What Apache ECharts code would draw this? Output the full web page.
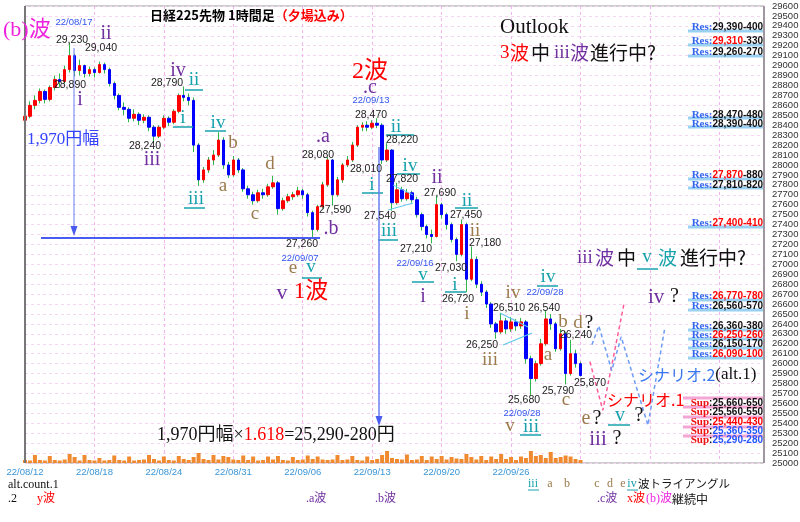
<!DOCTYPE html>
<html>
<head>
<meta charset="utf-8">
<script src="https://cdn.jsdelivr.net/npm/echarts@6/dist/echarts.min.js"></script>
<style>
html,body{margin:0;padding:0;background:#fff;}
#c{width:800px;height:522px;}
</style>
</head>
<body>
<div id="c"></div>
<script>
// Nikkei 225 futures, 1-hour bars (night session included), bar index 0 = 22/08/12
const opens  = [28450,28490,28600,28650,28740,28660,28780,28860,28840,28960,29100,28950,29000,28920,28960,28930,29010,28960,28820,28700,
                28580,28560,28470,28510,28450,28480,28380,28290,28380,28470,28430,28540,28700,28680,28650,28200,27850,27950,28050,28100,
                28250,28000,27900,28050,27950,27760,27700,27640,27720,27700,27780,27820,27560,27640,27680,27700,27740,27700,27520,27350,
                27580,27800,28050,27700,27850,28000,28050,28200,28380,28400,28380,28420,28400,28050,28150,27620,27750,27660,27720,27650,
                27500,27380,27300,27280,27600,27500,27400,27250,27100,27400,26850,27050,26800,26720,26600,26400,26320,26430,26350,26420,
                26380,26420,26050,25850,26000,26200,26450,26400,26150,26300,25900,26100,26000];
const closes = [28490,28600,28650,28740,28660,28780,28860,28840,28960,29100,28950,29000,28920,28960,28930,29010,28960,28820,28700,28580,
                28560,28470,28510,28450,28480,28380,28290,28380,28470,28430,28540,28700,28680,28650,28200,27850,27950,28050,28100,28250,
                28000,27900,28050,27950,27760,27700,27640,27720,27700,27780,27820,27560,27640,27680,27700,27740,27700,27520,27350,27580,
                27800,28050,27700,27850,28000,28050,28200,28380,28400,28380,28420,28400,28050,28150,27620,27750,27660,27720,27650,27500,
                27380,27300,27280,27600,27500,27400,27250,27100,27400,26850,27050,26800,26720,26600,26400,26320,26430,26350,26420,26380,
                26420,26050,25850,26000,26200,26450,26400,26150,26300,25900,26100,26000,25880];
const lows   = [28420,28470,28560,28620,28620,28640,28750,28780,28820,28930,28890,28900,28880,28890,28880,28920,28920,28790,28660,28550,
                28500,28430,28440,28400,28420,28340,28240,28270,28360,28390,28410,28520,28640,28600,28130,27790,27820,27920,28000,28080,
                27960,27870,27880,27920,27730,27660,27600,27620,27660,27680,27760,27500,27540,27620,27650,27680,27660,27480,27260,27330,
                27560,27780,27590,27680,27820,27980,28030,28180,28340,28340,28360,28370,28010,28030,27540,27600,27630,27640,27620,27470,
                27340,27260,27210,27270,27460,27350,27220,27030,27080,26720,26830,26760,26680,26560,26360,26250,26300,26300,26320,26330,
                26350,26000,25680,25820,25980,26180,26340,26120,26130,25790,25880,25960,25870];
const highs  = [28560,28640,28700,28770,28760,28800,28900,28920,29000,29230,29120,29060,29010,28990,28980,29040,29030,28980,28840,28720,
                28630,28580,28560,28530,28510,28500,28400,28400,28500,28490,28560,28720,28790,28720,28680,28220,27980,28080,28150,28330,
                28280,28030,28090,28070,27970,27790,27730,27750,27760,27810,27890,27840,27670,27710,27730,27780,27760,27720,27540,27600,
                27830,28080,28060,27880,28020,28090,28230,28400,28430,28440,28450,28470,28420,28220,28160,27820,27780,27760,27740,27680,
                27520,27400,27350,27690,27620,27520,27420,27270,27450,27420,27180,27080,26830,26740,26620,26420,26510,26460,26470,26450,
                26460,26440,26080,26030,26250,26540,26500,26420,26350,26320,26240,26140,26020];
const volumes = [3000,2500,8000,3000,2500,7000,3000,2500,3500,9000,6000,2500,8000,3000,2500,5000,2500,3000,7500,3000,
                 2500,6500,2500,3000,3500,8000,4000,2500,6500,3000,2500,7000,4000,3000,6000,10000,4000,3000,8000,3500,
                 7000,6000,3500,3000,7500,3000,6500,2500,3000,6500,3500,7000,3000,2500,6000,3000,3500,7500,4000,6500,
                 3500,3000,3500,8000,3000,3500,7000,3000,2500,6500,3000,4000,8000,12000,5000,4000,3500,8500,3000,3500,
                 7000,3000,6500,4000,7000,3500,6000,4500,4000,9000,6000,3500,7000,3000,6500,4000,9000,4000,6000,3000,
                 6500,5000,12000,7000,8000,5000,11000,5000,6000,7500,6500,4000,3000];
const dateTicks = ['22/08/12','22/08/18','22/08/24','22/08/31','22/09/06','22/09/13','22/09/20','22/09/26'];

// forward paths (bar index, price)
const scenario1Bars   = [113.9, 116.5, 120.8];
const scenario1Prices = [26020, 25530, 26610];
const scenario2Bars   = [114.3, 115.7, 118.3, 120.2, 125.6, 129.0];
const scenario2Prices = [26190, 26380, 25930, 26270, 25380, 26360];

// resistance / support zones
const resZones = ['29,390-400','29,310-330','29,260-270','28,470-480','28,390-400','27,870-880','27,810-820',
                  '27,400-410','26,770-780','26,560-570','26,360-380','26,250-260','26,150-170','26,090-100'];
const supZones = ['25,660-650','25,560-550','25,440-430','25,360-350','25,290-280'];

const BARS_PER_TICK = 14;
const X_MAX = 149;

const SERIF = '"Liberation Serif","Noto Sans CJK JP",serif';
const SANS = '"Liberation Sans","Noto Sans CJK JP",sans-serif';
const CJK = '"Noto Sans CJK JP",sans-serif';
const PURPLE = '#7030a0', TEAL = '#17a2ad', TAN = '#9b7b4c', RED = '#ff0000',
      MAG = '#ee22dd', LBLUE = '#3344ff', DATE = '#3355ee', BLACK = '#111';

const candles = opens.map((o, i) => [i, o, closes[i], lows[i], highs[i]]);
const bodies = opens.map((o, i) => [i, o, closes[i], Math.min(o, closes[i]), Math.max(o, closes[i])]);
const vols = volumes.map((v, i) => [i, v]);
const path1 = scenario1Bars.map((x, i) => [x, scenario1Prices[i]]);
const path2 = scenario2Bars.map((x, i) => [x, scenario2Prices[i]]);

// ---- annotation helpers ----
const G = [];
function T(x, y, text, fill, size, fam, align, weight) {
  G.push({type: 'text', x: x, y: y, z: 60, silent: true,
    style: {text: text, fill: fill, fontSize: size, fontFamily: fam || SERIF,
            fontWeight: weight || 'normal', align: align || 'center', verticalAlign: 'middle'}});
}
function R(x, y, text, rich, align) {
  G.push({type: 'text', x: x, y: y, z: 60, silent: true,
    style: {text: text, rich: rich, align: align || 'left', verticalAlign: 'middle'}});
}
function L(x1, y1, x2, y2, stroke, w, dash) {
  G.push({type: 'line', z: 55, silent: true, shape: {x1: x1, y1: y1, x2: x2, y2: y2},
    style: {stroke: stroke, lineWidth: w || 1, lineDash: dash || null}});
}
function UL(x, y, text, fill, size, x1, x2, uy) {
  T(x, y, text, fill, size, SERIF);
  L(x1, uy, x2, uy, fill, 1.5);
}
function P(x, y) { T(x, y, arguments[2], '#222', 10.5, SANS); }
function D(x, y, t) { T(x, y, t, DATE, 9.5, SANS); }
function arrowDown(x, y, color) {
  G.push({type: 'polygon', z: 56, silent: true,
    shape: {points: [[x - 3.5, y - 10], [x + 3.5, y - 10], [x, y]]}, style: {fill: color}});
}

// frame
L(25, 6, 25, 463, '#777', 2);
L(764, 6, 764, 463, '#666', 1);

// title
R(150, 15, '{k|日経225先物 1時間足}{r|（夕場込み）}', {
  k: {fill: '#000', fontSize: 13, fontWeight: 'bold', fontFamily: CJK},
  r: {fill: RED, fontSize: 13, fontWeight: 'bold', fontFamily: CJK}});

// outlook
T(500, 27, 'Outlook', BLACK, 21, SERIF, 'left');
T(500, 53, '3', RED, 19, SERIF, 'left');
T(510, 53, '波', RED, 19, CJK, 'left');
T(531, 53, '中', BLACK, 19, CJK, 'left');
T(554, 53, 'iii', PURPLE, 19, SERIF, 'left');
T(570, 53, '波', PURPLE, 19, CJK, 'left');
T(590, 53, '進行中?', BLACK, 19, CJK, 'left');

// left side wave marks
T(3, 30, '(b)波', MAG, 22, SERIF, 'left');
D(74, 22, '22/08/17');
P(72, 40, '29,230');
T(106, 34, 'ii', PURPLE, 20);
P(101, 48, '29,040');
P(70, 85, '28,890');
T(80, 100, 'i', PURPLE, 20);
T(27, 140, '1,970円幅', LBLUE, 17, SERIF, 'left');
T(178, 71, 'iv', PURPLE, 20);
P(167, 83, '28,790');
UL(194, 80, 'ii', TEAL, 19, 185, 203, 90);
UL(183, 118, 'i', TEAL, 19, 173, 193, 127);
P(145, 146, '28,240');
T(152, 160, 'iii', PURPLE, 20);
UL(218, 123, 'iv', TEAL, 19, 205, 226, 131);
T(233, 143, 'b', TAN, 19);
UL(196, 199, 'iii', TEAL, 19, 184, 205, 208);
T(223, 186, 'a', TAN, 19);
T(255, 214, 'c', TAN, 19);
T(270, 164, 'd', TAN, 19);
T(323, 137, '.a', PURPLE, 20);
P(318, 155, '28,080');
P(335, 210, '27,590');
T(331, 229, '.b', PURPLE, 20);
P(302, 244, '27,260');
D(300, 258, '22/09/07');
T(293, 268, 'e', TAN, 19);
UL(311, 267, 'v', TEAL, 19, 302, 322, 278);
T(282, 293, 'v', PURPLE, 22);
T(311, 292, '1波', RED, 23);

// wave 2 top and the decline
T(370, 72, '2波', RED, 24);
T(370, 88, '.c', PURPLE, 20);
D(371, 100, '22/09/13');
P(371, 115, '28,470');
UL(396, 127, 'ii', TEAL, 19, 386, 414, 135);
P(402, 140, '28,220');
P(366, 169, '28,010');
UL(372, 185, 'i', TEAL, 19, 362, 383, 193);
UL(410, 166, 'iv', TEAL, 19, 397, 420, 174);
P(402, 179, '27,820');
P(380, 216, '27,540');
UL(389, 231, 'iii', TEAL, 19, 378, 398, 240);
T(437, 178, 'ii', PURPLE, 20);
P(440, 193, '27,690');
UL(467, 201, 'ii', TEAL, 19, 455, 478, 208);
P(466, 215, '27,450');
T(475, 231, 'ii', TAN, 19);
P(485, 243, '27,180');
P(416, 249, '27,210');
D(415, 263, '22/09/16');
P(451, 268, '27,030');
UL(423, 275, 'v', TEAL, 19, 412, 434, 282);
T(423, 297, 'i', PURPLE, 20);
UL(455, 285, 'i', TEAL, 19, 445, 466, 292);
P(458, 299, '26,720');
T(467, 314, 'i', TAN, 19);
T(513, 293, 'iv', TAN, 19);
UL(548, 277, 'iv', TEAL, 19, 537, 558, 286);
D(545, 292, '22/09/28');
P(509, 308, '26,510');
P(544, 308, '26,540');
T(563, 322, 'b', TAN, 19);
T(578, 323, 'd', TAN, 19);
T(589, 323, '?', BLACK, 19);
P(482, 345, '26,250');
T(490, 360, 'iii', TAN, 19);
T(548, 355, 'a', TAN, 19);
P(576, 335, '26,240');
P(558, 391, '25,790');
T(566, 400, 'c', TAN, 19);
P(590, 383, '25,870');
P(524, 400, '25,680');
D(522, 413, '22/09/28');
T(510, 426, 'v', TAN, 19);
UL(531, 427, 'iii', TEAL, 19, 520, 541, 435);

// future count
T(586, 419, 'e', TAN, 20);
T(597, 419, '?', BLACK, 20);
UL(620, 416, 'v', TEAL, 20, 608, 630, 425);
T(639, 416, '?', BLACK, 20);
T(598, 439, 'iii', PURPLE, 21);
T(617, 439, '?', BLACK, 20);
T(607, 400, 'シナリオ.1', RED, 16, CJK, 'left');
R(638, 375, '{b|シナリオ.2}{k|(alt.1)}', {
  b: {fill: '#3a78f0', fontSize: 16, fontFamily: CJK},
  k: {fill: BLACK, fontSize: 17, fontFamily: SERIF}});
T(577, 258, 'iii', PURPLE, 19, SERIF, 'left');
T(595, 258, '波', PURPLE, 19, CJK, 'left');
T(617, 258, '中', BLACK, 19, CJK, 'left');
UL(647, 257, 'v', TEAL, 19, 637, 658, 269);
T(658, 258, '波', TEAL, 19, CJK, 'left');
T(680, 258, '進行中?', BLACK, 19, CJK, 'left');
T(648, 297, 'iv', PURPLE, 21, SERIF, 'left');
T(670, 297, '?', BLACK, 20, SERIF, 'left');

// 1,970 range projection
R(157, 435, '{k|1,970円幅×}{r|1.618}{k|=25,290-280円}', {
  k: {fill: BLACK, fontSize: 18, fontFamily: SERIF},
  r: {fill: RED, fontSize: 18, fontFamily: SERIF}});
L(41, 238, 320, 238, '#4a5cf0', 2);
L(74, 48, 74, 228, '#6a7cf2', 1);
arrowDown(74, 236, '#4a5cf0');
L(379, 147, 379, 418, '#6a7cf2', 1.5);
arrowDown(379, 426, '#4a5cf0');

// contracting triangles
L(393, 185, 413, 195, '#5cc8ea', 1);
L(388, 210, 413, 203, '#5cc8ea', 1);
L(500, 313, 528, 327, '#5cc8ea', 1.2);
L(503, 345, 532, 333, '#5cc8ea', 1.2);

// resistance zones
const resTextY = [27, 41, 52, 115, 124, 175, 185, 223, 296, 306, 326, 335, 344, 354];
const resLineY = [31, 45, 56, 118, 127, 179, 188, 227, 300, 310, 330, 339, 348, 358];
const resHot = [0, 1, 0, 0, 0, 1, 0, 2, 2, 0, 0, 2, 0, 2];
const zoneRich = {
  r: {fill: '#3366ee', fontSize: 11, fontWeight: 'bold', fontFamily: SERIF},
  s: {fill: '#ee1111', fontSize: 11, fontWeight: 'bold', fontFamily: SERIF},
  k: {fill: '#111', fontSize: 10, fontWeight: 'bold', fontFamily: SANS},
  h: {fill: '#ff0000', fontSize: 10, fontWeight: 'bold', fontFamily: SANS},
  b: {fill: '#2255ff', fontSize: 10, fontWeight: 'bold', fontFamily: SANS}
};
resZones.forEach((z, i) => {
  L(688, resLineY[i], 763, resLineY[i], '#9ad0f2', 3);
  const parts = z.split('-');
  let body;
  if (resHot[i] === 2) body = '{h|' + z + '}';
  else if (resHot[i] === 1) body = '{h|' + parts[0] + '}{k|-' + parts[1] + '}';
  else body = '{k|' + z + '}';
  R(763, resTextY[i], '{r|Res:}' + body, zoneRich, 'right');
});
const supLineY = [398, 407, 417, 427, 436];
const supTextY = [403, 412, 422, 431, 440];
const supTone = ['k', 'k', 'h', 'b', 'b'];
supZones.forEach((z, i) => {
  L(683, supLineY[i], 763, supLineY[i], '#f4a6d4', 3);
  R(763, supTextY[i], '{s|Sup}{k|:}{' + supTone[i] + '|' + z + '}', zoneRich, 'right');
});

// legend rows under the axis
T(8, 485, 'alt.count.1', BLACK, 12, SERIF, 'left');
T(8, 499, '.2', BLACK, 12, SERIF, 'left');
T(37, 499, 'y波', RED, 12, SERIF, 'left');
T(306, 499, '.a波', PURPLE, 12, SERIF, 'left');
T(375, 499, '.b波', PURPLE, 12, SERIF, 'left');
T(533, 484, 'iii', TEAL, 12);
L(528, 490, 539, 490, TEAL, 1);
T(550, 484, 'a', TAN, 12);
T(567, 484, 'b', TAN, 12);
T(597, 484, 'c', TAN, 12);
T(610, 484, 'd', TAN, 12);
T(623, 484, 'e', TAN, 12);
T(632, 484, 'iv', TEAL, 12);
L(627, 490, 638, 490, TEAL, 1);
T(638, 484, '波トライアングル', BLACK, 11.5, CJK, 'left');
T(597, 499, '.c波', PURPLE, 12, SERIF, 'left');
T(627, 499, 'x波', RED, 12, SERIF, 'left');
T(646, 499, '(b)波', MAG, 12, SERIF, 'left');
T(672, 499, '継続中', BLACK, 12, CJK, 'left');

const chart = echarts.init(document.getElementById('c'));
chart.setOption({
  animation: false,
  backgroundColor: '#fff',
  grid: [
    {left: 25, right: 36, top: 6, bottom: 59, show: true, borderColor: '#9a9a9a', borderWidth: 1, outerBoundsMode: 'none'},
    {left: 25, right: 36, top: 423, bottom: 59, show: false, outerBoundsMode: 'none'}
  ],
  xAxis: [{
    type: 'value', gridIndex: 0, min: 0, max: X_MAX, interval: BARS_PER_TICK,
    axisLine: {show: false}, axisTick: {show: false},
    axisLabel: {color: '#3a96d8', fontSize: 9.5, fontFamily: SANS, margin: 5, showMaxLabel: false,
      formatter: v => (v % BARS_PER_TICK === 0 && dateTicks[v / BARS_PER_TICK]) || ''},
    splitLine: {show: true, lineStyle: {color: '#f2b4ee', type: [3, 3], width: 1}}
  }, {
    type: 'value', gridIndex: 1, min: 0, max: X_MAX, show: false, splitLine: {show: false}
  }],
  yAxis: [{
    type: 'value', gridIndex: 0, position: 'right', min: 25000, max: 29600, interval: 100,
    axisLine: {show: false}, axisTick: {show: false},
    axisLabel: {color: '#333', fontSize: 9.5, fontFamily: SANS, margin: 8, formatter: v => String(v)},
    splitLine: {show: true, lineStyle: {color: '#f7d6f3', type: [3, 3], width: 1}}
  }, {
    type: 'value', gridIndex: 1, min: 0, max: 40000, show: false, splitLine: {show: false}
  }],
  series: [
    {type: 'bar', name: 'volume', xAxisIndex: 1, yAxisIndex: 1, data: vols, barWidth: 4,
     itemStyle: {color: '#f08a30'}, z: 1},
    {type: 'candlestick', name: 'range', xAxisIndex: 0, yAxisIndex: 0, data: candles, barWidth: 1, z: 2,
     itemStyle: {color: '#2fb84a', color0: '#2fb84a', borderColor: '#2fb84a', borderColor0: '#2fb84a', borderWidth: 1}},
    {type: 'candlestick', name: 'body', xAxisIndex: 0, yAxisIndex: 0, data: bodies, barWidth: 3, z: 3,
     itemStyle: {color: '#ff0000', color0: '#0000ff', borderColor: '#ff0000', borderColor0: '#0000ff', borderWidth: 1}},
    {type: 'line', name: 'シナリオ.1', xAxisIndex: 0, yAxisIndex: 0, data: path1, symbol: 'none', z: 4,
     lineStyle: {color: '#ff5c9a', width: 1.5, type: [4, 3]}},
    {type: 'line', name: 'シナリオ.2', xAxisIndex: 0, yAxisIndex: 0, data: path2, symbol: 'none', z: 4,
     lineStyle: {color: '#6e9cf5', width: 1.5, type: [4, 3]}}
  ],
  graphic: G
});
</script>
</body>
</html>
